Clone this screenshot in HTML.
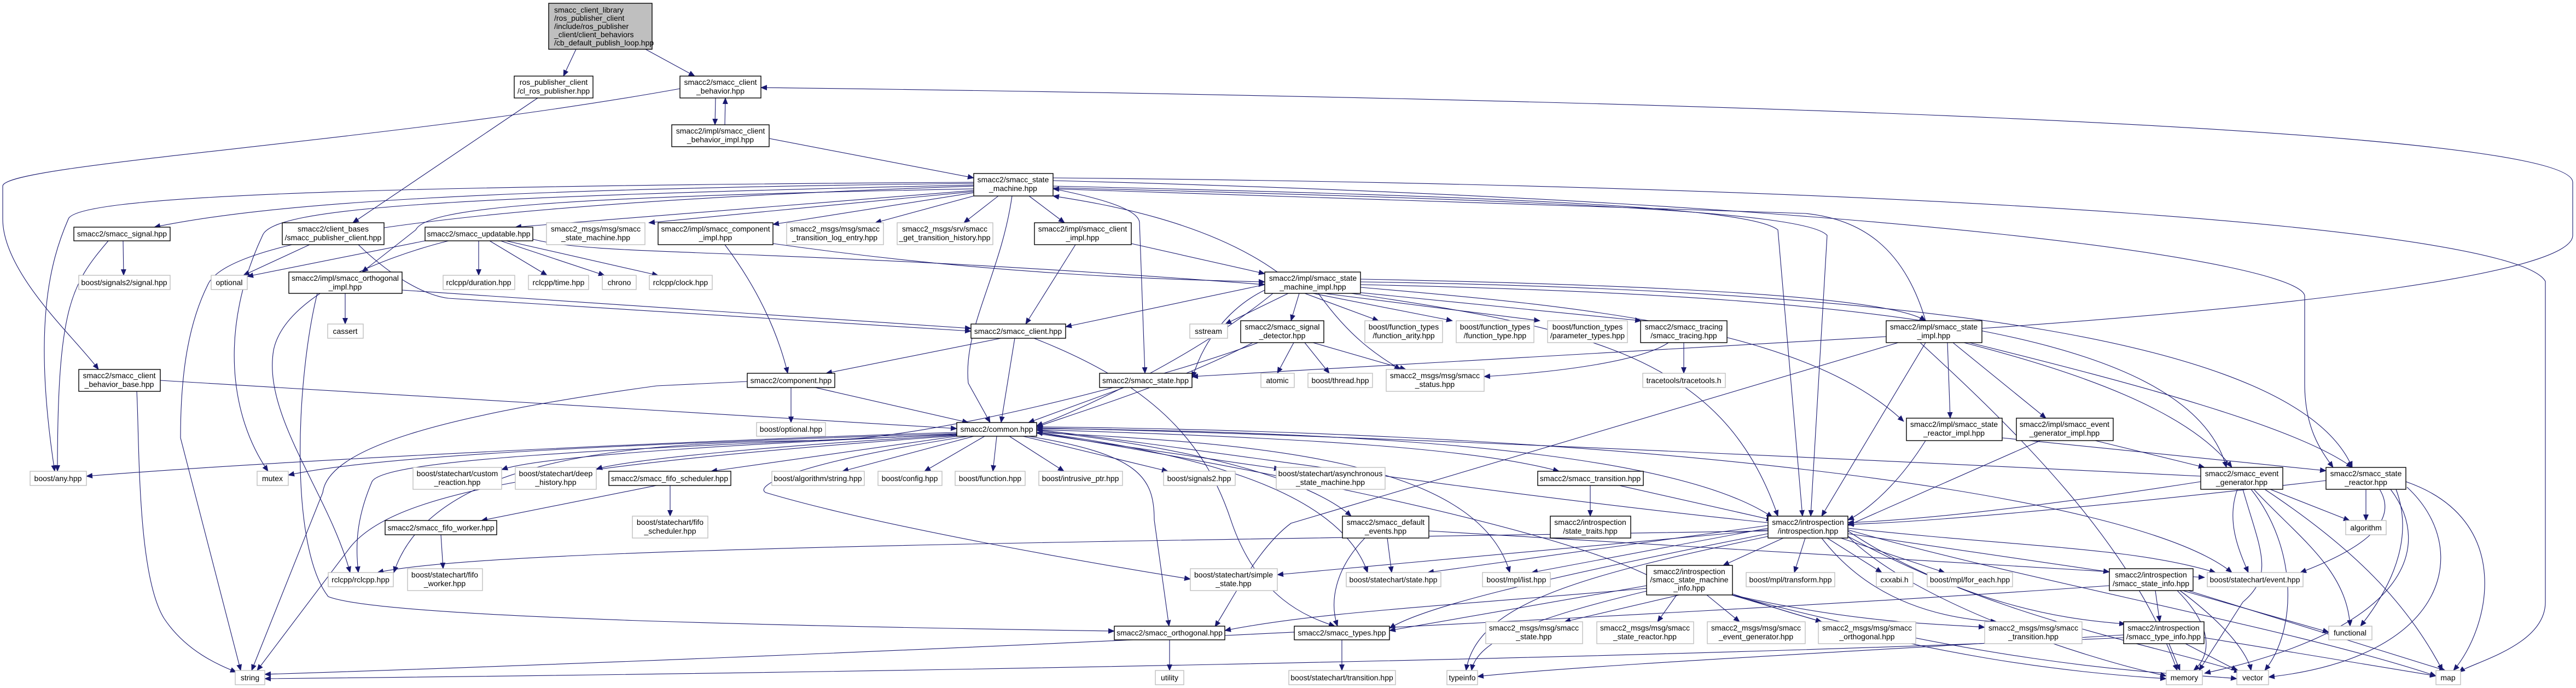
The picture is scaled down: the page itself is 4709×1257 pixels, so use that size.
<!DOCTYPE html>
<html><head><meta charset="utf-8"><style>
html,body{margin:0;padding:0;background:#fff;}
svg{display:block;}
text{font-family:"Liberation Sans Narrow","Liberation Sans",sans-serif;font-size:14px;fill:#000;}
.n rect{fill:#fff;stroke:#000;stroke-width:1.4;}
.g rect{fill:#fff;stroke:#bfbfbf;stroke-width:1.4;}
.r rect{fill:#bfbfbf;stroke:#000;stroke-width:1.4;}
.e path{fill:none;stroke:#191970;stroke-width:1.1;}
</style></head><body>
<svg width="4709" height="1257" viewBox="0 0 4709 1257" xmlns="http://www.w3.org/2000/svg">
<defs><marker id="a" markerWidth="12" markerHeight="10" refX="11" refY="5" orient="auto" markerUnits="userSpaceOnUse"><path d="M0,0 L12,5 L0,10 z" fill="#191970"/></marker></defs>
<g class="e" marker-end="url(#a)">
<path d="M1053,90 L1030,139" marker-end="url(#a)"/>
<path d="M1180,90 L1270,139" marker-end="url(#a)"/>
<path d="M983,179 L645,407" marker-end="url(#a)"/>
<path d="M1243,162 C700,260 5,300 5,340 L5,400 C5,500 140,620 180,675" marker-end="url(#a)"/>
<path d="M1308,179 L1307,228" marker-end="url(#a)"/>
<path d="M1325,228 L1326,179" marker-end="url(#a)"/>
<path d="M1406,253 L1780,325" marker-end="url(#a)"/>
<path d="M1780,335 C900,345 500,370 282,415" marker-end="url(#a)"/>
<path d="M1780,333 C600,340 140,360 125,400 C90,480 60,600 100,861" marker-end="url(#a)"/>
<path d="M1780,338 C800,360 500,380 480,430 C400,600 420,760 490,861" marker-end="url(#a)"/>
<path d="M1780,340 C900,370 420,430 380,520 C340,600 330,700 330,800 L440,1225" marker-end="url(#a)"/>
<path d="M1780,348 L942,415" marker-end="url(#a)"/>
<path d="M1780,350 L1186,407" marker-end="url(#a)"/>
<path d="M1780,352 L1413,410" marker-end="url(#a)"/>
<path d="M1780,358 L1600,407" marker-end="url(#a)"/>
<path d="M1825,358 L1762,407" marker-end="url(#a)"/>
<path d="M1881,358 L1946,407" marker-end="url(#a)"/>
<path d="M1780,345 C1000,360 780,380 760,420 L662,497" marker-end="url(#a)"/>
<path d="M1850,358 C1830,500 1760,600 1770,700 L1810,772" marker-end="url(#a)"/>
<path d="M1926,345 C2000,360 2080,380 2083,406 L2093,682" marker-end="url(#a)"/>
<path d="M1925,340 C2800,360 3200,380 3250,420 L3295,943" marker-end="url(#a)"/>
<path d="M1925,343 C2800,365 3300,385 3340,430 L3310,943" marker-end="url(#a)"/>
<path d="M1925,330 C3500,370 4200,480 4213,540 L4213,700 C4213,780 4240,820 4265,854" marker-end="url(#a)"/>
<path d="M1925,325 C3600,340 4600,420 4653,514 L4653,1100 C4653,1180 4520,1210 4495,1228" marker-end="url(#a)"/>
<path d="M3623,600 C4200,560 4703,500 4703,430 L4703,333 C4703,230 3000,180 1391,160" marker-end="url(#a)"/>
<path d="M2335,497 C2200,400 2000,370 1925,358" marker-end="url(#a)"/>
<path d="M3520,586 C3480,450 3400,400 3300,390 L1925,345" marker-end="url(#a)"/>
<path d="M566,447 L445,503" marker-end="url(#a)"/>
<path d="M655,447 C720,510 780,540 820,545 L1775,605" marker-end="url(#a)"/>
<path d="M777,440 L452,505" marker-end="url(#a)"/>
<path d="M875,440 L875,503" marker-end="url(#a)"/>
<path d="M895,440 L1000,503" marker-end="url(#a)"/>
<path d="M915,440 L1105,503" marker-end="url(#a)"/>
<path d="M925,440 L1203,503" marker-end="url(#a)"/>
<path d="M820,440 C700,470 520,540 500,640 C480,760 600,900 640,1046" marker-end="url(#a)"/>
<path d="M974,437 C1100,470 1400,450 2312,520" marker-end="url(#a)"/>
<path d="M225,440 L226,503" marker-end="url(#a)"/>
<path d="M198,440 C130,520 105,560 105,861" marker-end="url(#a)"/>
<path d="M631,536 L631,592" marker-end="url(#a)"/>
<path d="M735,530 L1775,600" marker-end="url(#a)"/>
<path d="M580,536 C540,700 530,1000 600,1090 C700,1130 1500,1145 2037,1153" marker-end="url(#a)"/>
<path d="M1325,447 C1380,520 1420,600 1440,682" marker-end="url(#a)"/>
<path d="M1413,445 C1800,500 2100,510 2312,515" marker-end="url(#a)"/>
<path d="M1966,447 L1875,592" marker-end="url(#a)"/>
<path d="M2068,445 L2312,500" marker-end="url(#a)"/>
<path d="M2312,520 L1948,597" marker-end="url(#a)"/>
<path d="M2355,536 L2240,592" marker-end="url(#a)"/>
<path d="M2375,536 L2360,586" marker-end="url(#a)"/>
<path d="M2385,536 L2520,586" marker-end="url(#a)"/>
<path d="M2400,536 L2655,586" marker-end="url(#a)"/>
<path d="M2420,536 L2815,586" marker-end="url(#a)"/>
<path d="M2440,530 L3000,586" marker-end="url(#a)"/>
<path d="M2487,510 C3000,520 3450,540 3520,586" marker-end="url(#a)"/>
<path d="M2410,536 C2470,620 2520,650 2560,675" marker-end="url(#a)"/>
<path d="M2312,530 C2250,560 2200,620 2180,690" marker-end="url(#a)"/>
<path d="M2327,536 C2200,640 2000,740 1895,778" marker-end="url(#a)"/>
<path d="M2470,536 C2900,600 3150,650 3250,943" marker-end="url(#a)"/>
<path d="M2487,520 C3400,540 4000,600 4070,854" marker-end="url(#a)"/>
<path d="M2487,515 C3500,530 4200,620 4300,854" marker-end="url(#a)"/>
<path d="M2487,525 C2900,560 3300,600 3480,770" marker-end="url(#a)"/>
<path d="M1830,618 L1510,682" marker-end="url(#a)"/>
<path d="M1855,618 L1830,772" marker-end="url(#a)"/>
<path d="M1890,618 C2100,700 2200,800 2250,950 C2300,1100 2400,1130 2440,1144" marker-end="url(#a)"/>
<path d="M2290,626 C2150,700 1950,760 1895,780" marker-end="url(#a)"/>
<path d="M2365,626 L2335,682" marker-end="url(#a)"/>
<path d="M2385,626 L2430,682" marker-end="url(#a)"/>
<path d="M2400,626 L2570,675" marker-end="url(#a)"/>
<path d="M2300,626 C2100,700 1700,800 1517,804 C1300,810 800,800 720,1046" marker-end="url(#a)"/>
<path d="M3078,626 L3078,682" marker-end="url(#a)"/>
<path d="M3050,626 C3000,660 2850,680 2713,688" marker-end="url(#a)"/>
<path d="M3448,615 L2179,688" marker-end="url(#a)"/>
<path d="M3520,626 L3330,943" marker-end="url(#a)"/>
<path d="M3560,626 L3565,764" marker-end="url(#a)"/>
<path d="M3570,626 L3740,764" marker-end="url(#a)"/>
<path d="M3600,626 C3900,700 4200,780 4300,854" marker-end="url(#a)"/>
<path d="M3590,626 C3800,680 4000,750 4080,854" marker-end="url(#a)"/>
<path d="M3470,626 L2360,956 C2300,1000 2250,1100 2221,1145" marker-end="url(#a)"/>
<path d="M3510,626 C3700,800 3900,1000 3980,1225" marker-end="url(#a)"/>
<path d="M3660,800 L4252,860" marker-end="url(#a)"/>
<path d="M3520,805 C3460,900 3400,940 3378,950" marker-end="url(#a)"/>
<path d="M3830,805 L4030,854" marker-end="url(#a)"/>
<path d="M3730,805 L3378,960" marker-end="url(#a)"/>
<path d="M1490,708 L1770,772" marker-end="url(#a)"/>
<path d="M1446,708 L1446,772" marker-end="url(#a)"/>
<path d="M1366,697 L1200,705 C800,760 600,820 590,900 L460,1225" marker-end="url(#a)"/>
<path d="M293,695 L1749,783" marker-end="url(#a)"/>
<path d="M250,715 C255,800 250,1050 300,1130 C340,1190 400,1215 432,1228" marker-end="url(#a)"/>
<path d="M2055,708 L1880,772" marker-end="url(#a)"/>
<path d="M1749,790 C1400,800 600,835 158,870" marker-end="url(#a)"/>
<path d="M1749,792 C1200,810 700,830 527,868" marker-end="url(#a)"/>
<path d="M1749,793 C1400,810 1000,830 917,858" marker-end="url(#a)"/>
<path d="M1749,795 C1400,815 1150,840 1090,857" marker-end="url(#a)"/>
<path d="M1749,797 L1300,861" marker-end="url(#a)"/>
<path d="M1780,797 L1540,861" marker-end="url(#a)"/>
<path d="M1800,797 L1690,861" marker-end="url(#a)"/>
<path d="M1822,797 L1815,861" marker-end="url(#a)"/>
<path d="M1845,797 L1945,861" marker-end="url(#a)"/>
<path d="M1870,797 L2135,861" marker-end="url(#a)"/>
<path d="M1895,792 L2340,857" marker-end="url(#a)"/>
<path d="M1749,794 C1100,820 700,840 680,880 C650,950 650,1000 655,1046" marker-end="url(#a)"/>
<path d="M1749,796 C1000,850 720,900 640,1000 L470,1225" marker-end="url(#a)"/>
<path d="M1770,797 C1430,850 1380,890 1400,900 C1600,960 2000,1030 2176,1058" marker-end="url(#a)"/>
<path d="M1880,797 C2080,830 2110,870 2110,950 L2137,1144" marker-end="url(#a)"/>
<path d="M1895,785 C2400,800 2700,820 2850,861" marker-end="url(#a)"/>
<path d="M1895,787 C2200,820 2400,880 2470,943" marker-end="url(#a)"/>
<path d="M1895,790 C2200,830 2450,900 2500,1046" marker-end="url(#a)"/>
<path d="M1895,790 C2300,810 2700,840 2760,1046" marker-end="url(#a)"/>
<path d="M1895,783 C2700,790 3100,850 3240,945" marker-end="url(#a)"/>
<path d="M1895,780 C3000,790 3900,900 4080,1046" marker-end="url(#a)"/>
<path d="M3010,1050 C2800,950 2200,840 1895,790" marker-end="url(#a)"/>
<path d="M3232,955 C2700,900 2200,820 1895,785" marker-end="url(#a)"/>
<path d="M4023,870 C3000,820 2300,790 1895,782" marker-end="url(#a)"/>
<path d="M1200,887 L880,951" marker-end="url(#a)"/>
<path d="M1225,887 L1225,943" marker-end="url(#a)"/>
<path d="M806,977 L810,1039" marker-end="url(#a)"/>
<path d="M3232,970 C2000,990 900,1000 690,1046" marker-end="url(#a)"/>
<path d="M2907,887 L2907,943" marker-end="url(#a)"/>
<path d="M2960,887 L3240,950" marker-end="url(#a)"/>
<path d="M2536,983 L2544,1046" marker-end="url(#a)"/>
<path d="M2495,983 C2440,1040 2430,1100 2445,1144" marker-end="url(#a)"/>
<path d="M2612,970 L4030,1055" marker-end="url(#a)"/>
<path d="M3260,983 L3150,1033" marker-end="url(#a)"/>
<path d="M3232,965 L2800,1046" marker-end="url(#a)"/>
<path d="M3232,960 L2610,1046" marker-end="url(#a)"/>
<path d="M3300,983 L3280,1046" marker-end="url(#a)"/>
<path d="M3340,983 L3440,1046" marker-end="url(#a)"/>
<path d="M3365,983 L3555,1046" marker-end="url(#a)"/>
<path d="M3378,975 L3856,1045" marker-end="url(#a)"/>
<path d="M3378,965 C3700,1000 3900,1000 4050,1046" marker-end="url(#a)"/>
<path d="M3330,983 C3420,1100 3550,1130 3650,1136" marker-end="url(#a)"/>
<path d="M3232,975 C2800,1060 2600,1110 2540,1148" marker-end="url(#a)"/>
<path d="M3378,980 C3600,1100 3750,1130 3885,1140" marker-end="url(#a)"/>
<path d="M3378,980 C3500,1100 3800,1200 3960,1235" marker-end="url(#a)"/>
<path d="M3378,970 C3600,1120 3950,1180 4095,1228" marker-end="url(#a)"/>
<path d="M3378,968 C3700,1060 4200,1150 4453,1235" marker-end="url(#a)"/>
<path d="M3232,968 L2335,1050" marker-end="url(#a)"/>
<path d="M3232,980 C2900,1050 2700,1100 2680,1225" marker-end="url(#a)"/>
<path d="M3070,1087 L2860,1136" marker-end="url(#a)"/>
<path d="M3065,1087 L3030,1136" marker-end="url(#a)"/>
<path d="M3120,1087 L3180,1136" marker-end="url(#a)"/>
<path d="M3165,1087 L3330,1136" marker-end="url(#a)"/>
<path d="M3167,1087 C3400,1140 3550,1140 3628,1146" marker-end="url(#a)"/>
<path d="M3010,1070 L2540,1152" marker-end="url(#a)"/>
<path d="M3010,1075 C2600,1110 2400,1120 2239,1152" marker-end="url(#a)"/>
<path d="M3167,1085 C3500,1200 3800,1230 3960,1240" marker-end="url(#a)"/>
<path d="M3167,1087 C3700,1230 4000,1230 4089,1240" marker-end="url(#a)"/>
<path d="M3010,1080 C2800,1130 2700,1170 2690,1225" marker-end="url(#a)"/>
<path d="M3940,1079 L3948,1136" marker-end="url(#a)"/>
<path d="M3990,1079 L4257,1155" marker-end="url(#a)"/>
<path d="M3980,1079 C4050,1150 4040,1200 4010,1225" marker-end="url(#a)"/>
<path d="M3985,1079 C4080,1150 4110,1200 4115,1225" marker-end="url(#a)"/>
<path d="M4000,1079 L4470,1225" marker-end="url(#a)"/>
<path d="M3856,1070 C3000,1130 1500,1200 484,1232" marker-end="url(#a)"/>
<path d="M3965,1176 L3985,1225" marker-end="url(#a)"/>
<path d="M3995,1176 L4090,1225" marker-end="url(#a)"/>
<path d="M4029,1165 L4453,1235" marker-end="url(#a)"/>
<path d="M3882,1160 C3400,1190 2900,1215 2701,1236" marker-end="url(#a)"/>
<path d="M3882,1165 C3000,1205 1500,1230 484,1240" marker-end="url(#a)"/>
<path d="M4150,894 L4295,951" marker-end="url(#a)"/>
<path d="M4090,894 C4070,950 4090,1000 4110,1046" marker-end="url(#a)"/>
<path d="M4120,894 C4200,980 4290,1040 4296,1144" marker-end="url(#a)"/>
<path d="M4100,894 C4130,1000 4160,1050 4100,1100 L4020,1225" marker-end="url(#a)"/>
<path d="M4115,894 C4200,1000 4200,1150 4140,1225" marker-end="url(#a)"/>
<path d="M4140,894 C4300,1000 4400,1100 4465,1225" marker-end="url(#a)"/>
<path d="M4023,880 C3700,930 3500,950 3378,955" marker-end="url(#a)"/>
<path d="M4325,894 L4325,951" marker-end="url(#a)"/>
<path d="M4350,894 C4390,960 4300,1010 4205,1046" marker-end="url(#a)"/>
<path d="M4380,894 C4420,1000 4350,1100 4315,1144" marker-end="url(#a)"/>
<path d="M4370,894 C4450,1000 4400,1150 4030,1230" marker-end="url(#a)"/>
<path d="M4400,890 C4520,1000 4480,1200 4147,1237" marker-end="url(#a)"/>
<path d="M4398,880 C4600,950 4550,1150 4485,1225" marker-end="url(#a)"/>
<path d="M4252,878 C3800,930 3500,955 3378,958" marker-end="url(#a)"/>
<path d="M2138,1169 L2138,1225" marker-end="url(#a)"/>
<path d="M2453,1169 L2453,1225" marker-end="url(#a)"/>
</g>
<!-- nodes -->
<g class="r"><rect x="1003" y="6" width="189" height="84"/><text x="1013" y="23">smacc_client_library</text><text x="1013" y="38">/ros_publisher_client</text><text x="1013" y="53">/include/ros_publisher</text><text x="1013" y="68">_client/client_behaviors</text><text x="1013" y="83">/cb_default_publish_loop.hpp</text></g>
<g class="n" text-anchor="middle">
<rect x="940" y="139" width="144" height="40"/><text x="1012" y="155">ros_publisher_client</text><text x="1012" y="171">/cl_ros_publisher.hpp</text>
<rect x="1243" y="139" width="148" height="40"/><text x="1317" y="155">smacc2/smacc_client</text><text x="1317" y="171">_behavior.hpp</text>
<rect x="1228" y="228" width="178" height="40"/><text x="1317" y="244">smacc2/impl/smacc_client</text><text x="1317" y="260">_behavior_impl.hpp</text>
<rect x="1780" y="317" width="145" height="41"/><text x="1852" y="333">smacc2/smacc_state</text><text x="1852" y="349">_machine.hpp</text>
<rect x="135" y="415" width="176" height="25"/><text x="223" y="432">smacc2/smacc_signal.hpp</text>
<rect x="516" y="407" width="186" height="40"/><text x="609" y="423">smacc2/client_bases</text><text x="609" y="439">/smacc_publisher_client.hpp</text>
<rect x="777" y="415" width="197" height="25"/><text x="875" y="432">smacc2/smacc_updatable.hpp</text>
<rect x="1203" y="407" width="210" height="40"/><text x="1308" y="423">smacc2/impl/smacc_component</text><text x="1308" y="439">_impl.hpp</text>
<rect x="1891" y="407" width="177" height="40"/><text x="1979" y="423">smacc2/impl/smacc_client</text><text x="1979" y="439">_impl.hpp</text>
<rect x="528" y="497" width="207" height="39"/><text x="631" y="513">smacc2/impl/smacc_orthogonal</text><text x="631" y="529">_impl.hpp</text>
<rect x="2312" y="497" width="175" height="39"/><text x="2400" y="513">smacc2/impl/smacc_state</text><text x="2400" y="529">_machine_impl.hpp</text>
<rect x="1775" y="592" width="173" height="26"/><text x="1861" y="610">smacc2/smacc_client.hpp</text>
<rect x="2268" y="586" width="152" height="40"/><text x="2344" y="602">smacc2/smacc_signal</text><text x="2344" y="618">_detector.hpp</text>
<rect x="2999" y="586" width="158" height="40"/><text x="3078" y="602">smacc2/smacc_tracing</text><text x="3078" y="618">/smacc_tracing.hpp</text>
<rect x="3448" y="586" width="175" height="40"/><text x="3535" y="602">smacc2/impl/smacc_state</text><text x="3535" y="618">_impl.hpp</text>
<rect x="144" y="675" width="149" height="40"/><text x="218" y="691">smacc2/smacc_client</text><text x="218" y="707">_behavior_base.hpp</text>
<rect x="1366" y="682" width="160" height="26"/><text x="1446" y="700">smacc2/component.hpp</text>
<rect x="2010" y="682" width="169" height="26"/><text x="2094" y="700">smacc2/smacc_state.hpp</text>
<rect x="3485" y="764" width="175" height="41"/><text x="3572" y="780">smacc2/impl/smacc_state</text><text x="3572" y="796">_reactor_impl.hpp</text>
<rect x="3686" y="764" width="177" height="41"/><text x="3774" y="780">smacc2/impl/smacc_event</text><text x="3774" y="796">_generator_impl.hpp</text>
<rect x="1749" y="772" width="146" height="25"/><text x="1822" y="789">smacc2/common.hpp</text>
<rect x="1113" y="861" width="223" height="26"/><text x="1224" y="879">smacc2/smacc_fifo_scheduler.hpp</text>
<rect x="2811" y="861" width="193" height="26"/><text x="2907" y="879">smacc2/smacc_transition.hpp</text>
<rect x="4023" y="854" width="150" height="40"/><text x="4098" y="870">smacc2/smacc_event</text><text x="4098" y="886">_generator.hpp</text>
<rect x="4252" y="854" width="146" height="40"/><text x="4325" y="870">smacc2/smacc_state</text><text x="4325" y="886">_reactor.hpp</text>
<rect x="704" y="951" width="204" height="26"/><text x="806" y="969">smacc2/smacc_fifo_worker.hpp</text>
<rect x="2454" y="943" width="158" height="40"/><text x="2533" y="959">smacc2/smacc_default</text><text x="2533" y="975">_events.hpp</text>
<rect x="2834" y="943" width="147" height="40"/><text x="2907" y="959">smacc2/introspection</text><text x="2907" y="975">/state_traits.hpp</text>
<rect x="3232" y="943" width="146" height="40"/><text x="3305" y="959">smacc2/introspection</text><text x="3305" y="975">/introspection.hpp</text>
<rect x="3010" y="1033" width="157" height="54"/><text x="3088" y="1049">smacc2/introspection</text><text x="3088" y="1064">/smacc_state_machine</text><text x="3088" y="1079">_info.hpp</text>
<rect x="3856" y="1039" width="153" height="40"/><text x="3932" y="1055">smacc2/introspection</text><text x="3932" y="1071">/smacc_state_info.hpp</text>
<rect x="2037" y="1144" width="202" height="25"/><text x="2138" y="1161">smacc2/smacc_orthogonal.hpp</text>
<rect x="2366" y="1144" width="174" height="25"/><text x="2453" y="1161">smacc2/smacc_types.hpp</text>
<rect x="3882" y="1136" width="147" height="40"/><text x="3955" y="1152">smacc2/introspection</text><text x="3955" y="1168">/smacc_type_info.hpp</text>
</g>
<g class="g" text-anchor="middle">
<rect x="999" y="407" width="180" height="40"/><text x="1089" y="423">smacc2_msgs/msg/smacc</text><text x="1089" y="439">_state_machine.hpp</text>
<rect x="1438" y="407" width="177" height="40"/><text x="1526" y="423">smacc2_msgs/msg/smacc</text><text x="1526" y="439">_transition_log_entry.hpp</text>
<rect x="1640" y="407" width="175" height="40"/><text x="1727" y="423">smacc2_msgs/srv/smacc</text><text x="1727" y="439">_get_transition_history.hpp</text>
<rect x="144" y="503" width="167" height="26"/><text x="227" y="521">boost/signals2/signal.hpp</text>
<rect x="386" y="503" width="66" height="26"/><text x="419" y="521">optional</text>
<rect x="810" y="503" width="131" height="26"/><text x="875" y="521">rclcpp/duration.hpp</text>
<rect x="966" y="503" width="110" height="26"/><text x="1021" y="521">rclcpp/time.hpp</text>
<rect x="1101" y="503" width="62" height="26"/><text x="1132" y="521">chrono</text>
<rect x="1187" y="503" width="115" height="26"/><text x="1244" y="521">rclcpp/clock.hpp</text>
<rect x="599" y="592" width="65" height="26"/><text x="631" y="610">cassert</text>
<rect x="2175" y="592" width="69" height="26"/><text x="2209" y="610">sstream</text>
<rect x="2495" y="586" width="142" height="40"/><text x="2566" y="602">boost/function_types</text><text x="2566" y="618">/function_arity.hpp</text>
<rect x="2662" y="586" width="142" height="40"/><text x="2733" y="602">boost/function_types</text><text x="2733" y="618">/function_type.hpp</text>
<rect x="2829" y="586" width="146" height="40"/><text x="2902" y="602">boost/function_types</text><text x="2902" y="618">/parameter_types.hpp</text>
<rect x="2305" y="682" width="61" height="26"/><text x="2335" y="700">atomic</text>
<rect x="2391" y="682" width="118" height="26"/><text x="2450" y="700">boost/thread.hpp</text>
<rect x="2534" y="675" width="179" height="40"/><text x="2623" y="691">smacc2_msgs/msg/smacc</text><text x="2623" y="707">_status.hpp</text>
<rect x="3003" y="682" width="151" height="26"/><text x="3078" y="700">tracetools/tracetools.h</text>
<rect x="1383" y="772" width="126" height="25"/><text x="1446" y="789">boost/optional.hpp</text>
<rect x="55" y="861" width="103" height="26"/><text x="106" y="879">boost/any.hpp</text>
<rect x="470" y="861" width="57" height="26"/><text x="498" y="879">mutex</text>
<rect x="755" y="854" width="162" height="40"/><text x="836" y="870">boost/statechart/custom</text><text x="836" y="886">_reaction.hpp</text>
<rect x="942" y="854" width="148" height="40"/><text x="1016" y="870">boost/statechart/deep</text><text x="1016" y="886">_history.hpp</text>
<rect x="1411" y="861" width="169" height="26"/><text x="1495" y="879">boost/algorithm/string.hpp</text>
<rect x="1605" y="861" width="117" height="26"/><text x="1663" y="879">boost/config.hpp</text>
<rect x="1746" y="861" width="128" height="26"/><text x="1810" y="879">boost/function.hpp</text>
<rect x="1899" y="861" width="153" height="26"/><text x="1975" y="879">boost/intrusive_ptr.hpp</text>
<rect x="2127" y="861" width="131" height="26"/><text x="2192" y="879">boost/signals2.hpp</text>
<rect x="2333" y="854" width="199" height="40"/><text x="2432" y="870">boost/statechart/asynchronous</text><text x="2432" y="886">_state_machine.hpp</text>
<rect x="1156" y="943" width="138" height="40"/><text x="1225" y="959">boost/statechart/fifo</text><text x="1225" y="975">_scheduler.hpp</text>
<rect x="4288" y="951" width="74" height="26"/><text x="4325" y="969">algorithm</text>
<rect x="600" y="1046" width="119" height="26"/><text x="659" y="1064">rclcpp/rclcpp.hpp</text>
<rect x="745" y="1039" width="137" height="40"/><text x="813" y="1055">boost/statechart/fifo</text><text x="813" y="1071">_worker.hpp</text>
<rect x="2176" y="1039" width="159" height="40"/><text x="2255" y="1055">boost/statechart/simple</text><text x="2255" y="1071">_state.hpp</text>
<rect x="2461" y="1046" width="173" height="26"/><text x="2547" y="1064">boost/statechart/state.hpp</text>
<rect x="2710" y="1046" width="124" height="26"/><text x="2772" y="1064">boost/mpl/list.hpp</text>
<rect x="3192" y="1046" width="162" height="26"/><text x="3273" y="1064">boost/mpl/transform.hpp</text>
<rect x="3430" y="1046" width="67" height="26"/><text x="3463" y="1064">cxxabi.h</text>
<rect x="3523" y="1046" width="156" height="26"/><text x="3601" y="1064">boost/mpl/for_each.hpp</text>
<rect x="4035" y="1046" width="175" height="26"/><text x="4122" y="1064">boost/statechart/event.hpp</text>
<rect x="2716" y="1136" width="177" height="40"/><text x="2804" y="1152">smacc2_msgs/msg/smacc</text><text x="2804" y="1168">_state.hpp</text>
<rect x="2919" y="1136" width="177" height="40"/><text x="3007" y="1152">smacc2_msgs/msg/smacc</text><text x="3007" y="1168">_state_reactor.hpp</text>
<rect x="3121" y="1136" width="179" height="40"/><text x="3210" y="1152">smacc2_msgs/msg/smacc</text><text x="3210" y="1168">_event_generator.hpp</text>
<rect x="3324" y="1136" width="178" height="40"/><text x="3413" y="1152">smacc2_msgs/msg/smacc</text><text x="3413" y="1168">_orthogonal.hpp</text>
<rect x="3628" y="1136" width="178" height="40"/><text x="3717" y="1152">smacc2_msgs/msg/smacc</text><text x="3717" y="1168">_transition.hpp</text>
<rect x="4257" y="1144" width="79" height="25"/><text x="4296" y="1161">functional</text>
<rect x="430" y="1225" width="54" height="26"/><text x="457" y="1243">string</text>
<rect x="2112" y="1225" width="52" height="26"/><text x="2138" y="1243">utility</text>
<rect x="2356" y="1225" width="195" height="26"/><text x="2453" y="1243">boost/statechart/transition.hpp</text>
<rect x="2645" y="1225" width="56" height="26"/><text x="2673" y="1243">typeinfo</text>
<rect x="3960" y="1225" width="66" height="26"/><text x="3993" y="1243">memory</text>
<rect x="4089" y="1225" width="58" height="26"/><text x="4118" y="1243">vector</text>
<rect x="4453" y="1225" width="45" height="26"/><text x="4475" y="1243">map</text>
</g>
</svg>
</body></html>
